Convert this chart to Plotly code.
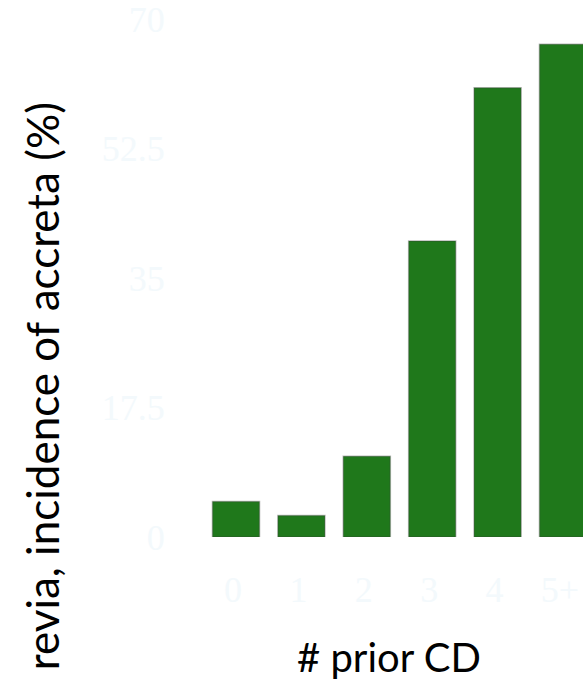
import plotly.graph_objects as go

categories = ["0", "1", "2", "3", "4", "5+"]
accreta_pct = [4.8, 2.9, 10.9, 40.0, 60.7, 66.6]
y_ticks = [0, 17.5, 35, 52.5, 70]
y_tick_labels = ["0", "17.5", "35", "52.5", "70"]

x_pos = list(range(len(categories)))

fig = go.Figure()
fig.add_trace(go.Bar(
    x=x_pos,
    y=accreta_pct,
    width=0.72,
    marker=dict(color="#1f781b", line=dict(color="rgba(60,60,60,0.35)", width=1.5)),
))

fig.update_layout(
    width=583, height=680,
    margin=dict(l=195, r=0, t=19, b=143, autoexpand=False),
    paper_bgcolor="white", plot_bgcolor="white",
    showlegend=False,
    font=dict(family="Lato, sans-serif"),
    xaxis=dict(
        range=[-0.627, 5.306], automargin=False,
        tickmode="array", tickvals=x_pos, ticktext=categories,
        showgrid=False, zeroline=False, showline=False,
        ticks="outside", ticklen=21, tickcolor="rgba(0,0,0,0)",
        ticklabeloverflow="allow", ticklabelshift=-3,
        tickfont=dict(size=36, color="#f3f9fc", family="Liberation Serif"),
    ),
    yaxis=dict(
        range=[0, 70], automargin=False,
        tickmode="array", tickvals=y_ticks, ticktext=y_tick_labels,
        showgrid=False, zeroline=False, showline=False,
        ticks="outside", ticklen=22, tickcolor="rgba(0,0,0,0)",
        ticklabeloverflow="allow",
        tickfont=dict(size=36, color="#f3f9fc", family="Liberation Serif"),
    ),
)

fig.add_annotation(
    text="# prior CD", xref="paper", yref="paper",
    x=0.5, y=-0.2317, xanchor="center", yanchor="middle",
    showarrow=False, font=dict(size=40, color="black", family="Lato"),
)
fig.add_annotation(
    text="revia, incidence of accreta (%)", xref="paper", yref="paper",
    x=-0.394, y=0.8436, xanchor="center", yanchor="top", textangle=-90,
    showarrow=False, font=dict(size=44, color="black", family="Lato"),
)

fig.write_html("out.html")
